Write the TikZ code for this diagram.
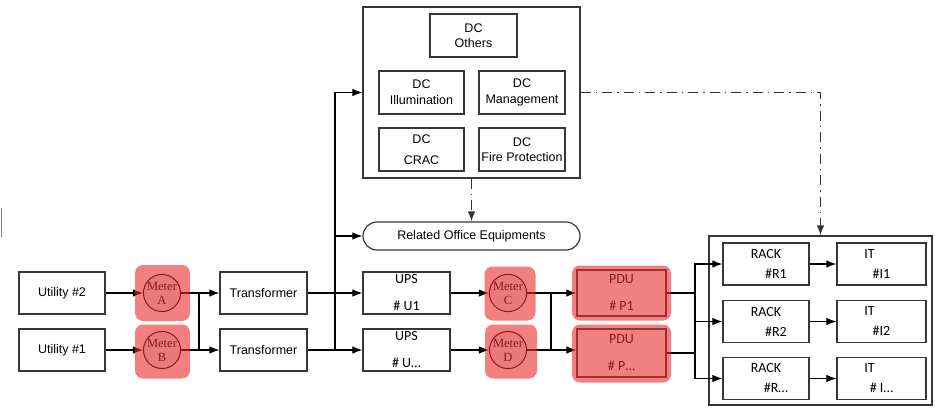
\documentclass[tikz,border=0pt]{standalone}
\usepackage{fontspec}
\setmainfont{Liberation Sans}
\newfontfamily\calfont{Carlito}
\newfontfamily\serfont{Liberation Serif}
\usetikzlibrary{arrows.meta}
\definecolor{boxgray}{RGB}{55,55,55}
\definecolor{hilitered}{RGB}{233,43,43}

\begin{document}
\begin{tikzpicture}[x=1pt,y=-1pt,>={Latex[length=10pt,width=7.5pt]},
  every node/.style={font=\fontsize{12.5}{15}\selectfont},
  box/.style={draw=boxgray,line width=1.2pt,minimum width=86pt,minimum height=42pt,inner sep=0pt,align=center},
  calbox/.style={box,font=\calfont\fontsize{14}{16}\selectfont},
  meter/.style={circle,draw=black,fill=gray!12,line width=1pt,minimum size=34pt,inner sep=0pt,align=center,
    font=\serfont\fontsize{12.5}{14}\selectfont},
  hilite/.style={fill=hilitered,fill opacity=0.6,rounded corners=8pt,inner sep=0pt},
  wire/.style={line width=1.1pt},
  dashdot/.style={line width=1.3pt,black!80,dash pattern=on 10pt off 5pt on 1.5pt off 5pt}]
\useasboundingbox (0,0) rectangle (935,408);

% supply side
\node[box] (util2) at (62,293) {Utility \#2};
\node[box] (util1) at (62,350) {Utility \#1};
\node[meter] (meterA) at (162,293) {Meter\\A};
\node[meter] (meterB) at (162,350) {Meter\\B};
\node[box,minimum width=87pt] (trans2) at (263.5,293) {Transformer};
\node[box,minimum width=87pt] (trans1) at (263.5,350) {Transformer};

% data centre loads
\node[box,minimum width=217pt,minimum height=171pt] (dc) at (471.5,92.5) {};
\node[box,minimum width=87pt,minimum height=43pt] (dcothers) at (473.5,35.5) {DC\\Others};
\node[box,minimum height=43pt,minimum width=85pt] (dcillum) at (421.5,92.5) {DC\\[1pt]Illumination};
\node[box,minimum height=43pt] (dcmgmt) at (522,92.5) {DC\\[1pt]Management};
\node[box,minimum height=43pt,minimum width=85pt] (dccrac) at (421.5,149.5) {DC\\[6pt]CRAC};
\node[box,minimum height=43pt] (dcfire) at (522,149.5) {DC\\Fire Protection};
\node[draw=boxgray,line width=1.2pt,rounded corners=14pt,minimum width=217pt,minimum height=28pt]
  (office) at (471.5,236) {Related Office Equipments};

% ups and pdu chain
\node[calbox,minimum width=87pt] (ups1) at (406.5,293) {UPS\\[11pt]\# U1};
\node[calbox,minimum width=87pt] (ups2) at (406.5,350) {UPS\\[11pt]\# U…};
\node[meter] (meterC) at (508,293) {Meter\\C};
\node[meter] (meterD) at (508,350) {Meter\\D};
\node[calbox,minimum width=89pt,minimum height=46pt] (pdu1) at (621.5,293) {PDU\\[11pt]\# P1};
\node[calbox,minimum width=89pt,minimum height=48pt] (pdu2) at (621.5,353) {PDU\\[11pt]\# P…};

% racks
\node[box,minimum width=223pt,minimum height=169pt] (racks) at (820.5,320.5) {};
\foreach \i/\r/\t/\y in {1/1/\#I1/264,2/2/\#I2/321.5,3/…/\# I…/378.5}{
  \node[calbox] (rack\i) at (766,\y) {RACK\\[4pt]\hspace*{20pt}\#R\r};
  \node[calbox,minimum width=89pt] (it\i) at (881.5,\y) {IT\hspace*{24pt}\\[4pt]\t};
  \draw[wire,->] (rack\i) -- (it\i);
}

% junctions
\coordinate (jm) at (199,0);
\coordinate (bus) at (335,0);
\coordinate (jp) at (551,0);
\coordinate (fan) at (695,0);

\draw[wire,->] (util2) -- (meterA);
\draw[wire,->] (util1) -- (meterB);
\draw[wire] (meterA.east) -- (meterA.east -| jm) -- (meterB.east -| jm) -- (meterB.east);
\draw[wire,->] (meterA.east -| jm) -- (trans2);
\draw[wire,->] (meterB.east -| jm) -- (trans1);
\draw[wire,->] (trans2) -- (ups1);
\draw[wire,->] (trans1) -- (ups2);
\draw[wire,->] (trans1.east -| bus) |- (dc.west);
\draw[wire,->] (office.west -| bus) -- (office.west);
\draw[dashdot,->] (dc.south) -- (office.north);
\draw[dashdot,->] (dc.east) -| (racks.north);
\draw[wire,->] (ups1) -- (meterC);
\draw[wire,->] (ups2) -- (meterD);
\draw[wire] (meterC.east) -- (meterC.east -| jp) -- (meterD.east -| jp) -- (meterD.east);
\draw[wire,->] (meterC.east -| jp) -- (pdu1.west);
\draw[wire,->] (meterD.east -| jp) -- (meterD.east -| pdu2.west);
\draw[wire] (pdu1.east) -- (pdu1.east -| fan);
\draw[wire] (pdu2.east) -- (pdu2.east -| fan);
\draw[wire,->] (rack3.west -| fan) |- (rack1.west);
\draw[wire,->] (rack2.west -| fan) -- (rack2.west);
\draw[wire,->] (rack3.west -| fan) -- (rack3.west);

% metered points
\node[hilite,minimum width=55pt,minimum height=56pt] (hlA) at (162.5,293) {};
\node[hilite,minimum width=55pt,minimum height=54pt] (hlB) at (162.5,351.5) {};
\node[hilite,minimum width=51pt,minimum height=54pt] (hlC) at (510,293.5) {};
\node[hilite,minimum width=52pt,minimum height=54pt] (hlD) at (511,351.5) {};
\node[hilite,minimum width=99pt,minimum height=55pt] (hlP1) at (621.5,293) {};
\node[hilite,minimum width=99pt,minimum height=58pt] (hlP2) at (621.5,353.5) {};

\draw[gray,line width=1.5pt] (1.5,208) -- (1.5,237);
\end{tikzpicture}
\end{document}
